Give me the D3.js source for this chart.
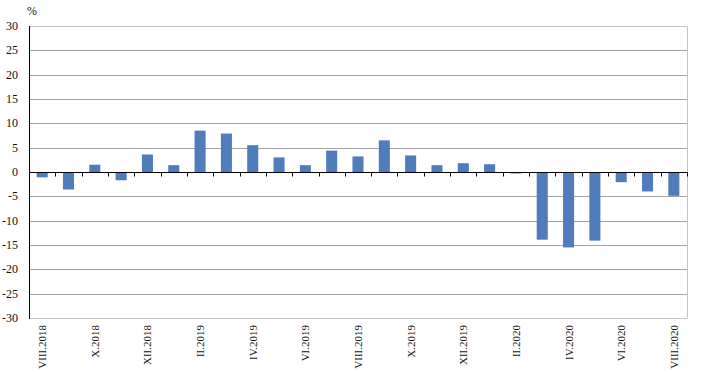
<!doctype html>
<html lang="en">
<head>
<meta charset="utf-8" />
<title>Monthly change, %</title>
<script src="https://cdn.jsdelivr.net/npm/d3@7/dist/d3.min.js"></script>
<style>
	body { margin: 0; background: #fff; }
	svg { display: block; font-family: "Liberation Serif", "Times New Roman", serif; }
	.ytick { font-size: 12px; fill: #111; }
	.xlab { font-size: 11px; fill: #111; }
</style>
</head>
<body>
<svg width="711" height="372"></svg>
<script>
	// months, shown every other one on the axis
	var months = ["VIII.2018", "IX.2018", "X.2018", "XI.2018", "XII.2018", "I.2019", "II.2019", "III.2019",
		"IV.2019", "V.2019", "VI.2019", "VII.2019", "VIII.2019", "IX.2019", "X.2019", "XI.2019",
		"XII.2019", "I.2020", "II.2020", "III.2020", "IV.2020", "V.2020", "VI.2020", "VII.2020", "VIII.2020"];
	var values = [-1.1, -3.6, 1.5, -1.7, 3.6, 1.4, 8.5, 7.9, 5.5, 3.0, 1.4, 4.4, 3.2, 6.5, 3.4, 1.4,
		1.8, 1.6, -0.3, -13.9, -15.5, -14.1, -2.1, -4.0, -4.9];
	var yTicks = [-30, -25, -20, -15, -10, -5, 0, 5, 10, 15, 20, 25, 30];

	var svg = d3.select("svg");
	var plotLeft = 29, plotRight = 687, plotTop = 26, plotBottom = 318;

	var x = d3.scaleBand()
		.domain(months)
		.range([plotLeft, plotRight])
		.paddingInner(0.58)
		.paddingOuter(0.29);

	var y = d3.scaleLinear()
		.domain([-30, 30])
		.range([plotBottom, plotTop]);

	// grid
	svg.append("g").selectAll("line")
		.data(yTicks.filter(function (d) { return d != 0; }))
		.enter().append("line")
		.attr("x1", plotLeft).attr("x2", plotRight)
		.attr("y1", function (d) { return Math.round(y(d)) + 0.5; })
		.attr("y2", function (d) { return Math.round(y(d)) + 0.5; })
		.attr("stroke", function (d) { return Math.abs(d) == 30 ? "#c4c4c4" : "#a3a3a3"; })
		.attr("stroke-width", 1);

	// right border
	svg.append("line")
		.attr("x1", plotRight + 0.5).attr("x2", plotRight + 0.5)
		.attr("y1", Math.round(y(30)) + 0.5).attr("y2", Math.round(y(-30)) + 0.5)
		.attr("stroke", "#c4c4c4");

	// bars
	svg.append("g").selectAll("rect")
		.data(values)
		.enter().append("rect")
		.attr("x", function (d, i) { return x(months[i]); })
		.attr("width", x.bandwidth())
		.attr("y", function (d) { return y(Math.max(0, d)); })
		.attr("height", function (d) { return Math.abs(y(d) - y(0)); })
		.attr("fill", "#4f7cba");

	// zero line + ticks at band edges
	var y0 = Math.round(y(0)) + 0.5;
	svg.append("line")
		.attr("x1", plotLeft).attr("x2", plotRight + 1)
		.attr("y1", y0).attr("y2", y0)
		.attr("stroke", "#000");

	var edges = d3.range(months.length + 1).map(function (i) { return plotLeft + i * x.step(); });
	svg.append("g").selectAll("line")
		.data(edges.slice(1))
		.enter().append("line")
		.attr("x1", function (d) { return Math.round(d) + 0.5; })
		.attr("x2", function (d) { return Math.round(d) + 0.5; })
		.attr("y1", y0).attr("y2", y0 + 4)
		.attr("stroke", "#000");

	// y axis line
	svg.append("line")
		.attr("x1", plotLeft + 0.5).attr("x2", plotLeft + 0.5)
		.attr("y1", Math.round(y(30))).attr("y2", Math.round(y(-30)) + 1)
		.attr("stroke", "#000");

	// y tick labels
	svg.append("g").selectAll("text")
		.data(yTicks)
		.enter().append("text")
		.attr("class", "ytick")
		.attr("x", 18)
		.attr("y", function (d) { return y(d) + 4; })
		.attr("text-anchor", "end")
		.text(function (d) { return d; });

	svg.append("text")
		.attr("class", "ytick")
		.attr("x", 27).attr("y", 15)
		.text("%");

	// x labels, vertical
	svg.append("g").selectAll("text")
		.data(months.filter(function (d, i) { return i % 2 == 0; }))
		.enter().append("text")
		.attr("class", "xlab")
		.attr("transform", function (d) {
			return "translate(" + (x(d) + x.bandwidth() / 2 + 4) + "," + 325 + ") rotate(-90)";
		})
		.attr("text-anchor", "end")
		.text(function (d) { return d; });
</script>
</body>
</html>
